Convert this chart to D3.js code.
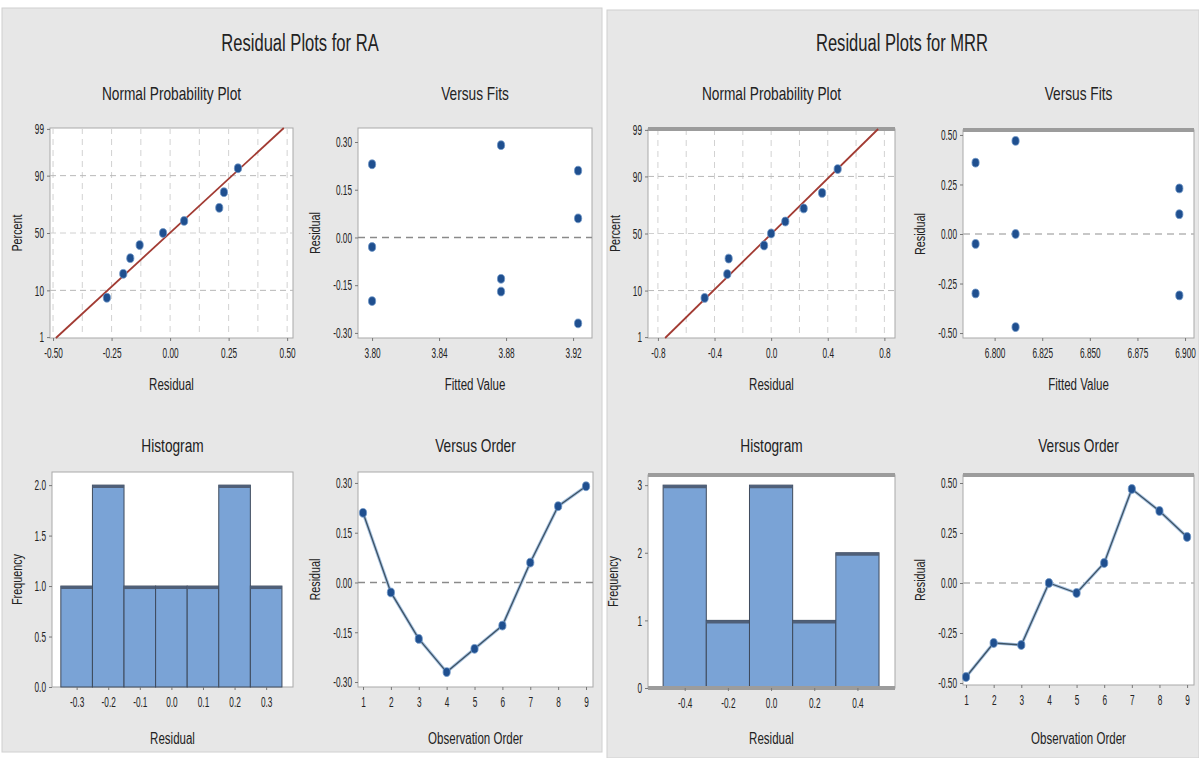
<!DOCTYPE html>
<html>
<head>
<meta charset="utf-8">
<script src="https://cdn.jsdelivr.net/npm/d3@7"></script>
<style>
  body { margin: 0; background: #fff; }
  text { font-family: "Liberation Sans", Arial, sans-serif; fill: #222; }
</style>
</head>
<body>
<div id="chart"></div>
<script>
// values
var obsOrder = [1, 2, 3, 4, 5, 6, 7, 8, 9];
var nppPercent = [7.4, 18.1, 28.7, 39.4, 50, 60.6, 71.3, 81.9, 92.6];
var percentTicks = [1, 10, 50, 90, 99];
var percentGrid = [10, 50, 90];

var raResid = [0.21, -0.03, -0.17, -0.27, -0.20, -0.13, 0.06, 0.23, 0.29];
var raFits = [3.923, 3.800, 3.877, 3.923, 3.800, 3.877, 3.923, 3.800, 3.877];
var raHistBins = [-0.3, -0.2, -0.1, 0.0, 0.1, 0.2, 0.3];
var raHistCounts = [1, 2, 1, 1, 1, 2, 1];
var raNppTicks = [-0.50, -0.25, 0.00, 0.25, 0.50];
var raFitTicks = [3.80, 3.84, 3.88, 3.92];
var raResidTicks = [-0.30, -0.15, 0.00, 0.15, 0.30];
var raFreqTicks = [0.0, 0.5, 1.0, 1.5, 2.0];

var mrrResid = [-0.47, -0.30, -0.31, 0.00, -0.05, 0.10, 0.47, 0.36, 0.23];
var mrrFits = [6.811, 6.790, 6.897, 6.811, 6.790, 6.897, 6.811, 6.790, 6.897];
var mrrHistBins = [-0.4, -0.2, 0.0, 0.2, 0.4];
var mrrHistCounts = [3, 1, 3, 1, 2];
var mrrNppTicks = [-0.8, -0.4, 0.0, 0.4, 0.8];
var mrrFitTicks = [6.800, 6.825, 6.850, 6.875, 6.900];
var mrrResidTicks = [-0.50, -0.25, 0.00, 0.25, 0.50];
var mrrFreqTicks = [0, 1, 2, 3];

var W = 1199, H = 758;
var svg = d3.select("#chart").append("svg").attr("width", W).attr("height", H);

// panel backgrounds
svg.append("rect").attr("x", 2).attr("y", 8).attr("width", 600).attr("height", 744)
  .attr("fill", "#e7e7e7").attr("stroke", "#d0d0d0");
svg.append("rect").attr("x", 607).attr("y", 10).attr("width", 592).attr("height", 748)
  .attr("fill", "#e7e7e7").attr("stroke", "#d0d0d0");

// inverse normal cdf (bisection on an erf approximation)
function erf(x) {
  var s = x < 0 ? -1 : 1; x = Math.abs(x);
  var t = 1 / (1 + 0.3275911 * x);
  var y = 1 - (((((1.061405429 * t - 1.453152027) * t) + 1.421413741) * t - 0.284496736) * t + 0.254829592) * t * Math.exp(-x * x);
  return s * y;
}
function probit(p) {
  var lo = -6, hi = 6;
  for (var i = 0; i < 60; i++) {
    var mid = (lo + hi) / 2;
    if (0.5 * (1 + erf(mid / Math.SQRT2)) < p) lo = mid; else hi = mid;
  }
  return (lo + hi) / 2;
}

function frame(g, box) {
  g.append("rect").attr("x", box.x0).attr("y", box.y0)
    .attr("width", box.x1 - box.x0).attr("height", box.y1 - box.y0)
    .attr("fill", "#fff").attr("stroke", "#a9a9a9");
}
function band(g, box, cfg) {
  if (cfg.band) {
    g.append("line").attr("x1", box.x0).attr("x2", box.x1).attr("y1", box.y0).attr("y2", box.y0)
      .attr("stroke", "#9c9c9c").attr("stroke-width", 4);
  }
}

function labels(g, box, title, xl, yl, yOff) {
  var cx = (box.x0 + box.x1) / 2;
  g.append("text").attr("x", cx).attr("y", box.ty).attr("text-anchor", "middle")
    .attr("font-size", 19).text(title);
  g.append("text").attr("x", cx).attr("y", box.ly).attr("text-anchor", "middle")
    .attr("font-size", 16).text(xl);
  var cy = (box.y0 + box.y1) / 2;
  g.append("text").attr("transform", "translate(" + (box.x0 - yOff) + "," + cy + ") rotate(-90)")
    .attr("text-anchor", "middle").attr("font-size", 15).text(yl);
}

function axes(g, box, x, y, xt, xf, yt, yf) {
  var ax = g.append("g").attr("transform", "translate(0," + box.y1 + ")")
    .call(d3.axisBottom(x).tickValues(xt).tickFormat(xf).tickSize(3).tickPadding(6));
  var ay = g.append("g").attr("transform", "translate(" + box.x0 + ",0)")
    .call(d3.axisLeft(y).tickValues(yt).tickFormat(yf).tickSize(3).tickPadding(3));
  [ax, ay].forEach(function(a) {
    a.select(".domain").remove();
    a.selectAll("line").attr("stroke", "#777");
    a.selectAll("text").attr("font-size", 15).attr("fill", "#1a1a1a").classed("tick-label", true)
      .style("font-family", '"Liberation Sans", Arial, sans-serif');
  });
}

function dots(g, pts) {
  g.selectAll(null).data(pts).enter().append("ellipse")
    .attr("cx", function(d) { return d[0]; }).attr("cy", function(d) { return d[1]; })
    .attr("rx", 3.6).attr("ry", 4.4)
    .attr("fill", "#1f4f8f").attr("stroke", "#6d95c6").attr("stroke-width", 0.8);
}

function nppPlot(box, resid, xDom, xTicks, xDec, cfg) {
  var g = svg.append("g");
  frame(g, box);
  var x = d3.scaleLinear().domain(xDom).range([box.x0, box.x1]);
  var y = d3.scaleLinear().domain([probit(0.01) - 0.02, probit(0.99) + 0.02]).range([box.y1, box.y0]);
  var step = (xTicks[1] - xTicks[0]) / 2;
  var grid = d3.range(xTicks[0], xTicks[xTicks.length - 1] + step / 2, step);
  g.selectAll(null).data(grid).enter().append("line")
    .attr("x1", function(d) { return x(d); }).attr("x2", function(d) { return x(d); })
    .attr("y1", box.y0).attr("y2", box.y1)
    .attr("stroke", "#d2d2d2").attr("stroke-dasharray", "6,5");
  g.selectAll(null).data(percentGrid).enter().append("line")
    .attr("x1", box.x0).attr("x2", box.x1)
    .attr("y1", function(d) { return y(probit(d / 100)); }).attr("y2", function(d) { return y(probit(d / 100)); })
    .attr("stroke", function(d) { return d === 50 ? "#d0d0d0" : "#b8b8b8"; })
    .attr("stroke-dasharray", "6,4");
  band(g, box, cfg);
  // fitted normal line from mean and sd of the residuals
  var m = d3.mean(resid), s = d3.deviation(resid);
  var zs = y.domain();
  g.append("line").attr("x1", x(m + s * zs[0])).attr("y1", y(zs[0]))
    .attr("x2", x(m + s * zs[1])).attr("y2", y(zs[1]))
    .attr("stroke", "#a23b33").attr("stroke-width", 1.8);
  var sorted = resid.slice().sort(d3.ascending);
  dots(g, sorted.map(function(r, i) { return [x(r), y(probit(nppPercent[i] / 100))]; }));
  axes(g, box, x, y, xTicks, function(d) { return d.toFixed(xDec); },
    percentTicks.map(function(p) { return probit(p / 100); }),
    function(d, i) { return percentTicks[i]; });
  labels(g, box, "Normal Probability Plot", "Residual", "Percent", 28);
}

function fitsPlot(box, fits, resid, xDom, yDom, xTicks, xDec, yTicks, cfg) {
  var g = svg.append("g");
  frame(g, box);
  band(g, box, cfg);
  var x = d3.scaleLinear().domain(xDom).range([box.x0, box.x1]);
  var y = d3.scaleLinear().domain(yDom).range([box.y1, box.y0]);
  g.append("line").attr("x1", box.x0).attr("x2", box.x1).attr("y1", y(0)).attr("y2", y(0))
    .attr("stroke", cfg.zero).attr("stroke-width", 1.6).attr("stroke-dasharray", "7,5");
  dots(g, fits.map(function(f, i) { return [x(f), y(resid[i])]; }));
  axes(g, box, x, y, xTicks, function(d) { return d.toFixed(xDec); }, yTicks, function(d) { return d.toFixed(2); });
  labels(g, box, "Versus Fits", "Fitted Value", "Residual", 38);
}

function histPlot(box, bins, counts, xDom, yDom, yTicks, yDec, cfg) {
  var g = svg.append("g");
  frame(g, box);
  band(g, box, cfg);
  var x = d3.scaleLinear().domain(xDom).range([box.x0, box.x1]);
  var y = d3.scaleLinear().domain(yDom).range([box.y1, box.y0]);
  var w = bins[1] - bins[0];
  var bars = g.selectAll(null).data(bins).enter().append("g");
  bars.append("rect")
    .attr("x", function(d) { return x(d - w / 2); })
    .attr("width", function(d) { return x(d + w / 2) - x(d - w / 2); })
    .attr("y", function(d, i) { return y(counts[i]); })
    .attr("height", function(d, i) { return y(0) - y(counts[i]); })
    .attr("fill", "#7aa3d6").attr("stroke", "#3e4a5c").attr("stroke-width", 1);
  bars.append("line")
    .attr("x1", function(d) { return x(d - w / 2); }).attr("x2", function(d) { return x(d + w / 2); })
    .attr("y1", function(d, i) { return y(counts[i]) + 1.5; }).attr("y2", function(d, i) { return y(counts[i]) + 1.5; })
    .attr("stroke", "#4f5f78").attr("stroke-width", 3);
  if (cfg.band) {
    g.append("line").attr("x1", box.x0).attr("x2", box.x1).attr("y1", box.y1).attr("y2", box.y1)
      .attr("stroke", "#9c9c9c").attr("stroke-width", 4);
  }
  axes(g, box, x, y, bins, function(d) { return d.toFixed(1); }, yTicks, function(d) { return d.toFixed(yDec); });
  labels(g, box, "Histogram", "Residual", "Frequency", 30);
}

function orderPlot(box, order, resid, xDom, yDom, yTicks, cfg) {
  var g = svg.append("g");
  frame(g, box);
  band(g, box, cfg);
  var x = d3.scaleLinear().domain(xDom).range([box.x0, box.x1]);
  var y = d3.scaleLinear().domain(yDom).range([box.y1, box.y0]);
  g.append("line").attr("x1", box.x0).attr("x2", box.x1).attr("y1", y(0)).attr("y2", y(0))
    .attr("stroke", cfg.zero).attr("stroke-width", 1.6).attr("stroke-dasharray", "7,5");
  var line = d3.line().x(function(d, i) { return x(order[i]); }).y(function(d) { return y(d); });
  g.append("path").attr("d", line(resid)).attr("fill", "none")
    .attr("stroke", "#a9c4e2").attr("stroke-width", 3.2);
  g.append("path").attr("d", line(resid)).attr("fill", "none")
    .attr("stroke", "#3d5264").attr("stroke-width", 1.3);
  dots(g, resid.map(function(r, i) { return [x(order[i]), y(r)]; }));
  axes(g, box, x, y, order, function(d) { return d; }, yTicks, function(d) { return d.toFixed(2); });
  labels(g, box, "Versus Order", "Observation Order", "Residual", 38);
}

// main titles
svg.append("text").attr("x", 300).attr("y", 51).attr("text-anchor", "middle")
  .attr("font-size", 23).text("Residual Plots for RA");
svg.append("text").attr("x", 902).attr("y", 51).attr("text-anchor", "middle")
  .attr("font-size", 23).text("Residual Plots for MRR");

var ra = { band: false, zero: "#8a8a8a" };
var mrr = { band: true, zero: "#b5b5b5" };

nppPlot({ x0: 50, x1: 293, y0: 128, y1: 338, ty: 100, ly: 390 }, raResid, [-0.513, 0.525], raNppTicks, 2, ra);
fitsPlot({ x0: 358, x1: 592, y0: 128, y1: 338, ty: 100, ly: 390 }, raFits, raResid, [3.7916, 3.9313], [-0.316, 0.344], raFitTicks, 2, raResidTicks, ra);
histPlot({ x0: 52, x1: 293, y0: 472, y1: 687, ty: 452, ly: 744 }, raHistBins, raHistCounts, [-0.378, 0.385], [0, 2.13], raFreqTicks, 1, ra);
orderPlot({ x0: 358, x1: 593, y0: 472, y1: 687, ty: 452, ly: 744 }, obsOrder, raResid, [0.82, 9.25], [-0.315, 0.333], raResidTicks, ra);

nppPlot({ x0: 648, x1: 895, y0: 129, y1: 338, ty: 100, ly: 390 }, mrrResid, [-0.87, 0.875], mrrNppTicks, 1, mrr);
fitsPlot({ x0: 963, x1: 1194, y0: 130, y1: 338, ty: 100, ly: 390 }, mrrFits, mrrResid, [6.7834, 6.9047], [-0.525, 0.525], mrrFitTicks, 3, mrrResidTicks, mrr);
histPlot({ x0: 648, x1: 895, y0: 475, y1: 688, ty: 452, ly: 744 }, mrrHistBins, mrrHistCounts, [-0.57, 0.574], [0, 3.15], mrrFreqTicks, 0, mrr);
orderPlot({ x0: 963, x1: 1194, y0: 475, y1: 685, ty: 452, ly: 744 }, obsOrder, mrrResid, [0.89, 9.25], [-0.51, 0.54], mrrResidTicks, mrr);

// the source uses a condensed face: squeeze every text horizontally
svg.selectAll("text").each(function() {
  var len = this.getComputedTextLength();
  var k = d3.select(this).classed("tick-label") ? 0.55 : 0.72;
  d3.select(this).attr("textLength", len * k).attr("lengthAdjust", "spacingAndGlyphs");
});
</script>
</body>
</html>
